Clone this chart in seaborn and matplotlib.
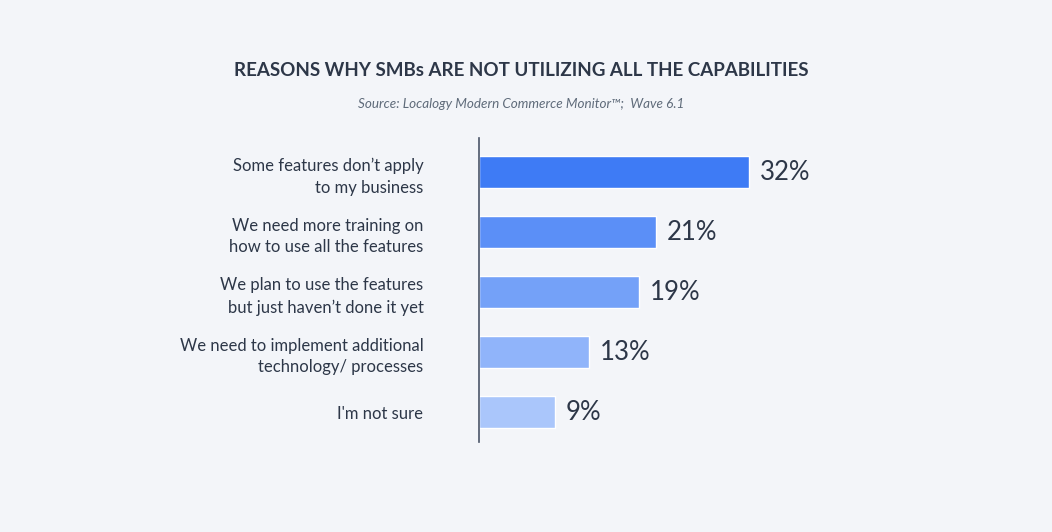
import seaborn as sns
import pandas as pd
import matplotlib.pyplot as plt

# Data
reasons = [
    "Some features don\u2019t apply\nto my business",
    "We need more training on\nhow to use all the features",
    "We plan to use the features\nbut just haven\u2019t done it yet",
    "We need to implement additional\ntechnology/ processes",
    "I'm not sure",
]
shares = [32, 21, 19, 13, 9]
bar_colors = ["#3e7bf5", "#5b8ff7", "#74a1f8", "#90b4fa", "#aac6fb"]

title = "REASONS WHY SMBs ARE NOT UTILIZING ALL THE CAPABILITIES"
source = "Source: Localogy Modern Commerce Monitor\u2122;  Wave 6.1"

bg = "#f3f5f9"
ink = "#2d3748"

sns.set_theme(style="white")
plt.rcParams['font.family'] = ['Lato', 'DejaVu Sans']

df = pd.DataFrame({"reason": reasons, "share": shares})

fig = plt.figure(figsize=(10.52, 5.32), dpi=100, facecolor=bg)
ax = fig.add_axes([479 / 1052, 1 - 442 / 532, 337 / 1052, 304 / 532])
ax.set_facecolor(bg)

sns.barplot(data=df, x="share", y="reason", hue="reason", palette=bar_colors,
            saturation=1, orient="h", width=0.533, legend=False, ax=ax)

for cont in ax.containers:
    ax.bar_label(cont, labels=[f"{v:.0f}%" for v in cont.datavalues],
                 padding=8, fontsize=18.5, color=ink)

ax.set_xlim(0, 40)
ax.set_ylim(4.5, -0.567)
ax.set_xlabel("")
ax.set_ylabel("")
ax.set_xticks([])
ax.tick_params(axis="y", length=0, pad=40, labelsize=12, labelcolor=ink)
for lab in ax.get_yticklabels():
    lab.set_linespacing(1.45)
    lab.set_multialignment("right")

sns.despine(ax=ax, left=False, bottom=True, top=True, right=True)
ax.spines["left"].set_color("#4a5568")
ax.spines["left"].set_linewidth(1.2)

fig.text(521 / 1052, 1 - 71 / 532, title, ha="center", va="center",
         fontsize=13.5, fontweight="bold", color=ink)
fig.text(521 / 1052, 1 - 104 / 532, source, ha="center", va="center",
         fontsize=9.7, style="italic", color="#5f6b7a")

plt.savefig("out.png", dpi=100, facecolor=bg)
